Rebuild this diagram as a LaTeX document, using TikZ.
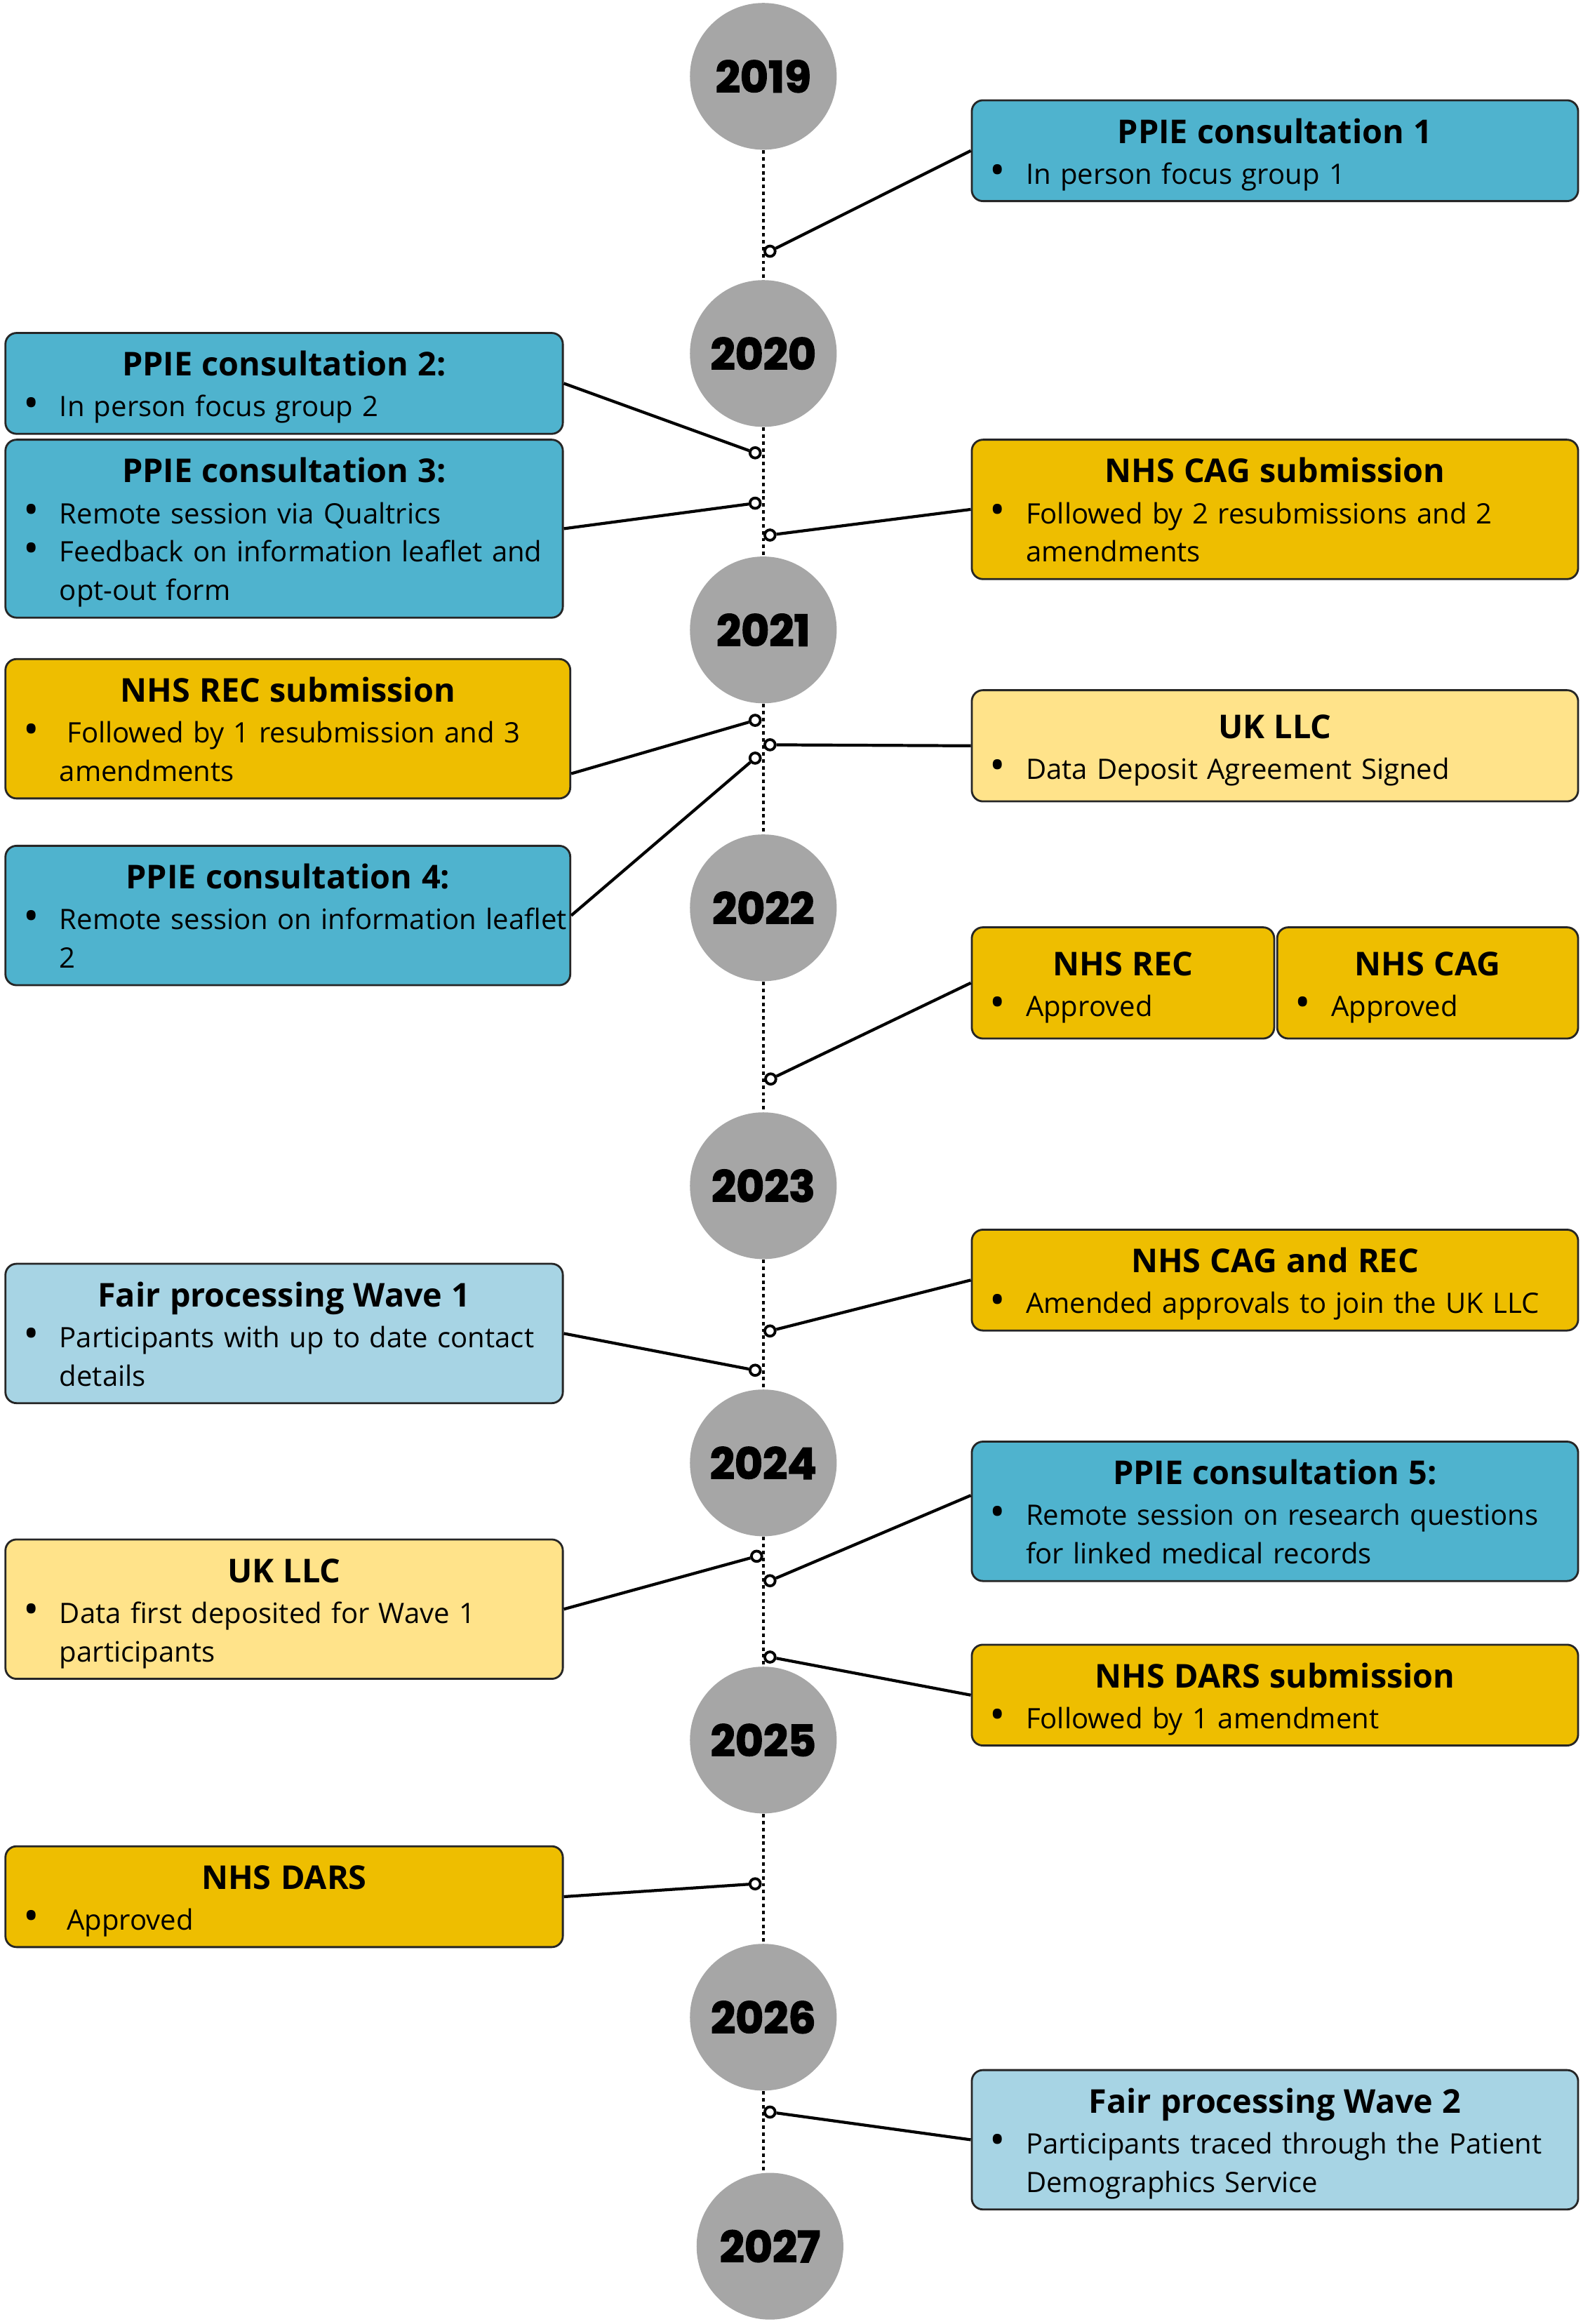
\documentclass[tikz,border=0pt]{standalone}
\usepackage{fontspec}
\setmainfont{Open Sans}
\newfontfamily\yearfont{Poppins}[BoldFeatures={FakeBold=2.5}]
\usepackage{xcolor}
\usepackage{tikz}
\usetikzlibrary{positioning}
\setlength{\parindent}{0pt}
% one pixel of the drawing grid
\newlength{\tpx}\setlength{\tpx}{0.601pt}
\definecolor{ppieblue}{HTML}{4FB3CE}
\definecolor{nhsgold}{HTML}{EEBE00}
\definecolor{llcyellow}{HTML}{FFE38A}
\definecolor{fairblue}{HTML}{A7D4E4}
\definecolor{yeargray}{HTML}{A6A6A6}
\newcommand{\bodyfont}{\fontsize{11.4}{15.63}\selectfont}
\newcommand{\evtitle}[1]{{\centering\fontsize{13.3}{16}\selectfont\bfseries\rule{0pt}{29\tpx}#1\par}\vspace{1.5\tpx}}
\newcommand{\evend}{\rule[-11.5\tpx]{0pt}{11.5\tpx}}
\newcommand{\bul}{\par\makebox[34.5\tpx][l]{\hspace{10\tpx}{\fontsize{17}{0}\selectfont\raisebox{-0.4pt}{\textbullet}}}}
\newcommand{\itm}[1]{\bul\mbox{#1}}
\newcommand{\itmm}[2]{\bul\begin{tabular}[t]{@{}l@{}}#1\\#2\evend\end{tabular}}

\begin{document}
\begin{tikzpicture}[x=0.021124cm, y=-0.021124cm,
  evt/.style={rectangle, rounded corners=4.5pt, draw=black!85, line width=0.8pt, anchor=north west,
              inner xsep=2\tpx, inner ysep=0pt, align=left, font=\bodyfont},
  ppie/.style={evt, fill=ppieblue},
  nhs/.style={evt, fill=nhsgold},
  llc/.style={evt, fill=llcyellow},
  fair/.style={evt, fill=fairblue},
  wide/.style={text width=405\tpx},
  half/.style={text width=372\tpx},
  mid/.style={text width=377\tpx},
  yr/.style={circle, fill=yeargray, minimum size=99\tpx, inner sep=0pt,
             font=\yearfont\bfseries\fontsize{17.5}{20}\selectfont},
  mk/.style={circle, draw=black, fill=white, line width=1.1pt, minimum size=7\tpx, inner sep=0pt},
  tl/.style={line width=1.3pt, dash pattern=on 1.4pt off 1.4pt},
  cn/.style={line width=1.2pt}]
\useasboundingbox (0,0) rectangle (1068,1568);
% --- years ---
\foreach \yr/\yc in {2019/51.5, 2020/238.5, 2021/425, 2022/612.5, 2023/800, 2024/987, 2025/1174, 2026/1361}
  \node[yr] (y\yr) at (515,\yc) {\yr};
\node[yr] (y2027) at (519.5,1515.5) {2027};
\foreach \a/\b in {2019/2020,2020/2021,2021/2022,2022/2023,2023/2024,2024/2025,2025/2026,2026/2027}
  \draw[tl] (y\a.south) -- (y\a.south |- y\b.north);
% --- ticks on the line ---
\foreach \n/\xx/\yy in {ppie1/519.5/169.5, ppie2/509.5/305.5, ppie3/509.5/339.5, cagsub/519.5/361,
                        recsub/509.5/486, llc1/519.5/502.5, ppie4/509.5/511.5, recok/520/728,
                        amend/519.5/898, wave1/509.5/924.5, ppie5/519.5/1066.5, llc2/510.5/1050,
                        darssub/519.5/1118, darsok/509.5/1271, wave2/519.5/1425}
  \node[mk] (d\n) at (\xx,\yy) {};
% --- events ---
\node[ppie, wide] (ppie1) at (655,67) {\evtitle{PPIE consultation 1}\itm{In person focus group 1}\evend};
\node[ppie, half] (ppie2) at (3,224) {\evtitle{PPIE consultation 2:}\itm{In person focus group 2}\evend};
\node[ppie, half] (ppie3) at (3,296) {\evtitle{PPIE consultation 3:}\itm{Remote session via Qualtrics}%
  \itmm{Feedback on information leaflet and}{opt-out form}\evend};
\node[nhs, wide] (cagsub) at (655,296) {\evtitle{NHS CAG submission}\itmm{Followed by 2 resubmissions and 2}{amendments}\evend};
\node[nhs, mid] (recsub) at (3,444) {\evtitle{NHS REC submission}\itmm{\hspace{5\tpx}Followed by 1 resubmission and 3}{amendments}\evend};
\node[llc, wide, minimum height=75\tpx] (llc1) at (655,465) {\evtitle{UK LLC}\itm{Data Deposit Agreement Signed}\evend};
\node[ppie, mid] (ppie4) at (3,570) {\evtitle{PPIE consultation 4:}\itmm{Remote session on information leaflet}{2}\evend};
\node[nhs, text width=200\tpx, minimum height=75\tpx] (recok) at (655,625) {\evtitle{NHS REC}\itm{Approved}\evend};
\node[nhs, text width=199\tpx, minimum height=75\tpx, right=0.4pt of recok] (cagok) {\evtitle{NHS CAG}\itm{Approved}\evend};
\node[nhs, wide] (amend) at (655,829) {\evtitle{NHS CAG and REC}\itm{Amended approvals to join the UK LLC}\evend};
\node[fair, half] (wave1) at (3,852) {\evtitle{Fair processing Wave 1}\itmm{Participants with up to date contact}{details}\evend};
\node[ppie, wide] (ppie5) at (655,972) {\evtitle{PPIE consultation 5:}\itmm{Remote session on research questions}{for linked medical records}\evend};
\node[llc, half] (llc2) at (3,1038) {\evtitle{UK LLC}\itmm{Data first deposited for Wave 1}{participants}\evend};
\node[nhs, wide] (darssub) at (655,1109) {\evtitle{NHS DARS submission}\itm{Followed by 1 amendment}\evend};
\node[nhs, half] (darsok) at (3,1245) {\evtitle{NHS DARS}\itm{\hspace{5\tpx}Approved}\evend};
\node[fair, wide] (wave2) at (655,1396) {\evtitle{Fair processing Wave 2}\itmm{Participants traced through the Patient}{Demographics Service}\evend};
% connectors
\foreach \n/\a in {ppie1/west, ppie2/east, ppie3/east, cagsub/west, recsub/-9, llc1/west, ppie4/east,
                   recok/west, amend/west, wave1/east, ppie5/177, llc2/east, darssub/west, darsok/east, wave2/west}
  \draw[cn] (\n.\a) -- (d\n);
\end{tikzpicture}
\end{document}
